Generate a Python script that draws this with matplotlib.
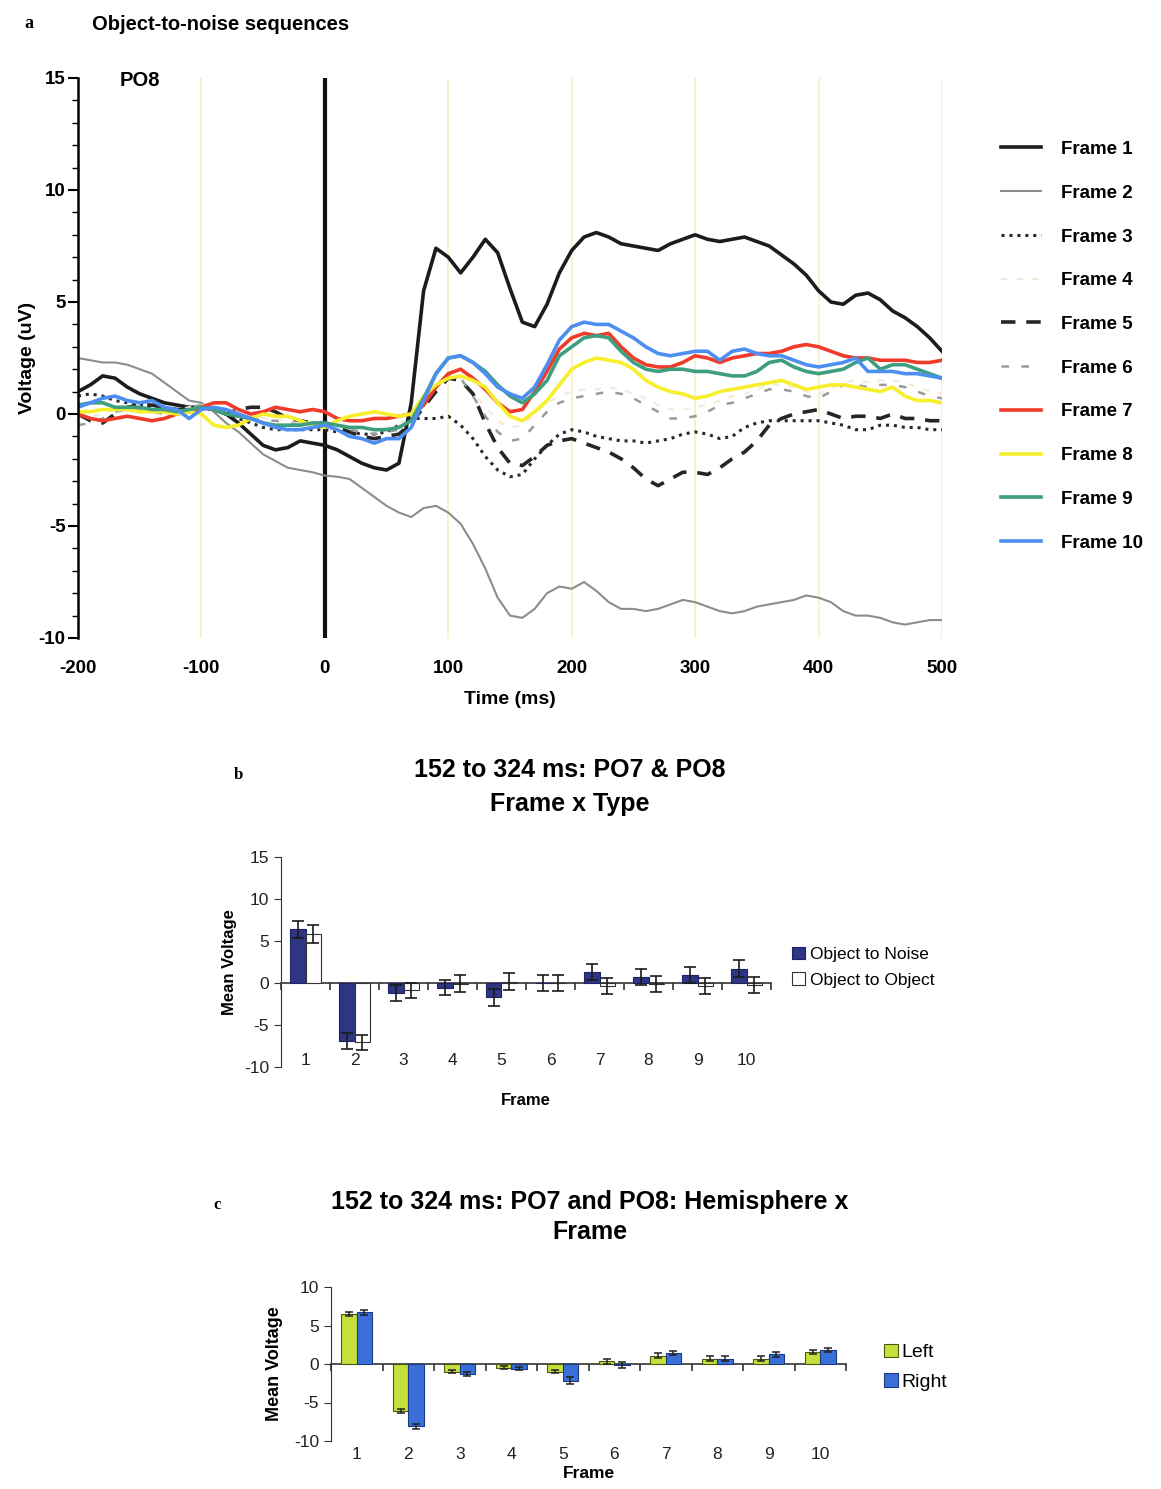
import numpy as np
import matplotlib.pyplot as plt
from matplotlib.lines import Line2D
from matplotlib.patches import Patch

plt.rcParams['font.family'] = ['Liberation Sans', 'DejaVu Sans']
plt.rcParams['axes.unicode_minus'] = False

# ---- painel a: ERP em PO8, de -200 a 500 ms a cada 10 ms ----
tempo = np.arange(-200, 501, 10)

frame1 = [1.0, 1.3, 1.7, 1.6, 1.2, 0.9, 0.7, 0.5, 0.4, 0.3, 0.3, 0.2, 0.0, -0.4, -0.9, -1.4, -1.6, -1.5, -1.2, -1.3,
          -1.4, -1.6, -1.9, -2.2, -2.4, -2.5, -2.2, 0.5, 5.5, 7.4, 7.0, 6.3, 7.0, 7.8, 7.2, 5.6, 4.1, 3.9, 4.9, 6.3,
          7.3, 7.9, 8.1, 7.9, 7.6, 7.5, 7.4, 7.3, 7.6, 7.8, 8.0, 7.8, 7.7, 7.8, 7.9, 7.7, 7.5, 7.1, 6.7, 6.2,
          5.5, 5.0, 4.9, 5.3, 5.4, 5.1, 4.6, 4.3, 3.9, 3.4, 2.8]
frame2 = [2.5, 2.4, 2.3, 2.3, 2.2, 2.0, 1.8, 1.4, 1.0, 0.6, 0.5, 0.1, -0.4, -0.8, -1.3, -1.8, -2.1, -2.4, -2.5, -2.6,
          -2.75, -2.8, -2.9, -3.3, -3.7, -4.1, -4.4, -4.6, -4.2, -4.1, -4.4, -4.9, -5.8, -6.9, -8.2, -9.0, -9.1, -8.7, -8.0, -7.7,
          -7.8, -7.5, -7.9, -8.4, -8.7, -8.7, -8.8, -8.7, -8.5, -8.3, -8.4, -8.6, -8.8, -8.9, -8.8, -8.6, -8.5, -8.4, -8.3, -8.1,
          -8.2, -8.4, -8.8, -9.0, -9.0, -9.1, -9.3, -9.4, -9.3, -9.2, -9.2]
frame3 = [0.8, 0.9, 0.8, 0.6, 0.5, 0.4, 0.3, 0.3, 0.2, 0.2, 0.4, 0.2, 0.0, -0.2, -0.4, -0.6, -0.7, -0.7, -0.7, -0.7,
          -0.7, -0.8, -0.8, -0.9, -0.9, -0.8, -0.5, -0.2, -0.2, -0.2, -0.1, -0.5, -1.1, -1.9, -2.5, -2.8, -2.7, -2.0, -1.4, -0.9,
          -0.7, -0.8, -1.0, -1.1, -1.2, -1.2, -1.3, -1.2, -1.1, -0.9, -0.8, -0.9, -1.1, -1.0, -0.6, -0.4, -0.3, -0.3, -0.3, -0.3,
          -0.3, -0.4, -0.5, -0.7, -0.7, -0.5, -0.5, -0.6, -0.6, -0.7, -0.7]
frame4 = [-0.2, -0.1, 0.0, 0.2, 0.3, 0.3, 0.2, 0.1, 0.2, 0.3, 0.4, 0.3, 0.2, 0.0, -0.1, -0.2, -0.2, -0.3, -0.4, -0.4,
          -0.5, -0.5, -0.6, -0.6, -0.7, -0.6, -0.5, -0.1, 0.5, 1.2, 1.7, 1.6, 1.0, 0.3, -0.3, -0.6, -0.5, 0.0, 0.5, 0.8,
          1.0, 1.1, 1.1, 1.2, 1.1, 0.9, 0.7, 0.4, 0.2, 0.2, 0.3, 0.4, 0.6, 0.8, 0.9, 1.1, 1.3, 1.3, 1.2, 1.0,
          0.9, 1.1, 1.4, 1.5, 1.4, 1.5, 1.5, 1.4, 1.2, 1.0, 0.9]
frame5 = [0.0, -0.3, -0.4, 0.0, 0.3, 0.4, 0.4, 0.3, 0.2, 0.2, 0.3, 0.2, 0.0, 0.2, 0.3, 0.3, 0.1, -0.2, -0.3, -0.4,
          -0.4, -0.6, -0.8, -1.0, -1.1, -1.0, -0.9, -0.4, 0.3, 1.0, 1.6, 1.5, 0.9, -0.4, -1.5, -2.2, -2.3, -1.9, -1.4, -1.2,
          -1.1, -1.3, -1.5, -1.7, -2.0, -2.4, -2.9, -3.2, -2.9, -2.6, -2.6, -2.7, -2.4, -2.0, -1.7, -1.2, -0.5, -0.2, 0.0, 0.1,
          0.2, 0.0, -0.2, -0.1, -0.1, -0.2, 0.0, -0.2, -0.2, -0.3, -0.3]
frame6 = [-0.5, -0.4, -0.2, 0.1, 0.2, 0.2, 0.1, 0.0, 0.1, 0.3, 0.4, 0.3, 0.1, -0.1, -0.2, -0.3, -0.3, -0.4, -0.5, -0.5,
          -0.6, -0.7, -0.7, -0.8, -0.9, -0.8, -0.7, -0.3, 0.4, 1.2, 1.8, 1.6, 0.8, -0.1, -0.8, -1.2, -1.1, -0.5, 0.1, 0.5,
          0.7, 0.8, 0.9, 1.0, 0.9, 0.7, 0.4, 0.1, -0.2, -0.2, -0.1, 0.1, 0.4, 0.5, 0.7, 0.9, 1.1, 1.1, 1.0, 0.8,
          0.7, 1.0, 1.3, 1.3, 1.2, 1.3, 1.3, 1.2, 1.0, 0.8, 0.7]
frame7 = [0.0, -0.2, -0.3, -0.2, -0.1, -0.2, -0.3, -0.2, 0.0, 0.1, 0.3, 0.5, 0.5, 0.2, 0.0, 0.1, 0.3, 0.2, 0.1, 0.2,
          0.1, -0.2, -0.3, -0.3, -0.2, -0.2, -0.1, 0.0, 0.4, 1.2, 1.8, 2.0, 1.6, 1.1, 0.5, 0.1, 0.2, 1.0, 1.9, 2.9,
          3.4, 3.6, 3.5, 3.6, 3.0, 2.5, 2.2, 2.1, 2.1, 2.3, 2.6, 2.5, 2.3, 2.5, 2.6, 2.7, 2.7, 2.8, 3.0, 3.1,
          3.0, 2.8, 2.6, 2.5, 2.5, 2.4, 2.4, 2.4, 2.3, 2.3, 2.4]
frame8 = [0.1, 0.1, 0.2, 0.2, 0.2, 0.1, 0.1, 0.1, 0.0, 0.1, 0.0, -0.5, -0.6, -0.5, -0.2, 0.0, -0.1, -0.1, -0.3, -0.5,
          -0.6, -0.3, -0.1, 0.0, 0.1, 0.0, -0.1, 0.0, 0.8, 1.3, 1.6, 1.7, 1.5, 1.2, 0.5, -0.1, -0.3, 0.1, 0.6, 1.3,
          2.0, 2.3, 2.5, 2.4, 2.3, 2.0, 1.5, 1.2, 1.0, 0.9, 0.7, 0.8, 1.0, 1.1, 1.2, 1.3, 1.4, 1.5, 1.3, 1.1,
          1.2, 1.3, 1.3, 1.2, 1.1, 1.0, 1.2, 0.8, 0.6, 0.6, 0.5]
frame9 = [0.4, 0.5, 0.5, 0.3, 0.3, 0.3, 0.2, 0.2, 0.1, 0.2, 0.3, 0.2, 0.0, -0.1, -0.2, -0.4, -0.5, -0.5, -0.5, -0.4,
          -0.4, -0.5, -0.6, -0.6, -0.7, -0.7, -0.6, -0.3, 0.7, 1.8, 2.5, 2.6, 2.3, 1.9, 1.3, 0.8, 0.5, 0.9, 1.5, 2.6,
          3.0, 3.4, 3.5, 3.4, 2.8, 2.3, 2.0, 1.9, 2.0, 2.0, 1.9, 1.9, 1.8, 1.7, 1.7, 1.9, 2.3, 2.4, 2.1, 1.9,
          1.8, 1.9, 2.0, 2.3, 2.5, 2.0, 2.2, 2.2, 2.0, 1.8, 1.6]
frame10 = [0.3, 0.5, 0.7, 0.8, 0.6, 0.5, 0.6, 0.3, 0.2, -0.2, 0.2, 0.3, 0.2, 0.0, -0.2, -0.4, -0.6, -0.7, -0.7, -0.6,
           -0.5, -0.7, -1.0, -1.1, -1.3, -1.1, -1.1, -0.6, 0.6, 1.8, 2.5, 2.6, 2.3, 1.8, 1.2, 0.9, 0.7, 1.2, 2.2, 3.3,
           3.9, 4.1, 4.0, 4.0, 3.7, 3.4, 3.0, 2.7, 2.6, 2.7, 2.8, 2.8, 2.4, 2.8, 2.9, 2.7, 2.6, 2.6, 2.4, 2.2,
           2.1, 2.2, 2.3, 2.5, 1.9, 1.9, 1.9, 1.8, 1.8, 1.7, 1.6]

rotulos_frames = ['Frame %d' % i for i in range(1, 11)]

# ---- painel b: 152 a 324 ms, Frame x Type ----
quadros = np.arange(1, 11)
obj_ruido = [6.4, -6.9, -1.2, -0.55, -1.7, 0.05, 1.3, 0.75, 1.0, 1.7]
err_ruido = [1.0, 1.0, 1.0, 0.9, 1.0, 0.95, 0.95, 0.95, 0.95, 1.0]
obj_objeto = [5.85, -7.05, -0.85, -0.1, 0.15, 0.05, -0.3, -0.1, -0.3, -0.2]
err_objeto = [1.05, 0.9, 0.9, 1.0, 1.0, 0.95, 0.95, 0.95, 0.95, 0.95]

# ---- painel c: 152 a 324 ms, Hemisphere x Frame ----
esquerdo = [6.5, -6.1, -1.0, -0.5, -1.0, 0.35, 1.1, 0.7, 0.7, 1.55]
err_esquerdo = [0.3, 0.3, 0.2, 0.2, 0.2, 0.3, 0.3, 0.3, 0.3, 0.3]
direito = [6.7, -8.1, -1.3, -0.6, -2.2, -0.1, 1.45, 0.7, 1.25, 1.8]
err_direito = [0.3, 0.35, 0.2, 0.2, 0.45, 0.4, 0.3, 0.3, 0.3, 0.3]

LARG, ALT = 1161, 1489


def caixa(x0, y0, x1, y1):
    # converte pixels (topo-esquerda) em coordenadas de figura
    return [x0 / LARG, 1 - y1 / ALT, (x1 - x0) / LARG, (y1 - y0) / ALT]


def desenhar_painel_a(fig):
    ax = fig.add_axes(caixa(78, 78, 942, 638))
    for t in [-100, 100, 200, 300, 400, 500]:
        ax.axvline(t, color='#f6edc9', lw=1.2, zorder=0)
    ax.axvline(0, color='#111111', lw=3, zorder=1)

    estilos = [
        dict(color='#1c1c1c', lw=2.6),
        dict(color='#8c8c8c', lw=1.5),
        dict(color='#2a2a2a', lw=2.2, ls=(0, (1, 1.6))),
        dict(color='#f1ecd9', lw=1.6, ls=(0, (3, 4))),
        dict(color='#262626', lw=2.6, ls=(0, (4, 3))),
        dict(color='#9a9a9a', lw=1.8, ls=(0, (3, 5))),
        dict(color='#f03a2a', lw=2.6),
        dict(color='#f7ee2c', lw=2.6),
        dict(color='#3e9e80', lw=2.6),
        dict(color='#4c8ff0', lw=2.6),
    ]
    series = [frame1, frame2, frame3, frame4, frame5, frame6, frame7, frame8, frame9, frame10]
    handles = []
    for serie, estilo, rotulo in zip(series, estilos, rotulos_frames):
        linha, = ax.plot(tempo, serie, label=rotulo, zorder=2, **estilo)
        handles.append(linha)

    ax.set_xlim(-200, 500)
    ax.set_ylim(-10, 15)
    for s in ['top', 'right', 'bottom']:
        ax.spines[s].set_visible(False)
    ax.spines['left'].set_linewidth(1.8)
    ax.set_yticks([-10, -5, 0, 5, 10, 15])
    ax.set_yticks(np.arange(-10, 16, 1), minor=True)
    ax.tick_params(axis='y', which='major', length=7, width=1.5, labelsize=13.5, pad=2)
    ax.tick_params(axis='y', which='minor', length=4, width=1)
    ax.set_xticks([-200, -100, 0, 100, 200, 300, 400, 500])
    ax.tick_params(axis='x', length=0, pad=16, labelsize=13.5)
    for lab in ax.get_xticklabels() + ax.get_yticklabels():
        lab.set_fontweight('bold')
    ax.set_xlabel('Time (ms)', fontsize=14, fontweight='bold', labelpad=10)
    ax.set_ylabel('Voltage (uV)', fontsize=14, fontweight='bold', labelpad=2)
    ax.text(0.048, 0.995, 'PO8', transform=ax.transAxes, fontsize=14.5, fontweight='bold', va='center')

    fig.legend(handles=handles, loc='upper left', bbox_to_anchor=(984 / LARG, 1 - 124 / ALT),
               frameon=False, prop=dict(size=13.5, weight='bold'), handlelength=2.15,
               handletextpad=1.05, labelspacing=1.42)

    fig.text(24 / LARG, 1 - 24 / ALT, 'a', fontsize=13, fontweight='bold', family='Liberation Serif', va='center')
    fig.text(92 / LARG, 1 - 24 / ALT, 'Object-to-noise sequences', fontsize=14.5, fontweight='bold', va='center')


def eixo_zero(ax, pos):
    # linha do zero com marcas entre as categorias (estilo Excel)
    sec = ax.secondary_xaxis(pos)
    sec.set_xticks(np.arange(0.5, 10.6, 1), labels=[])
    sec.tick_params(length=5, width=1.2, color='#333333')
    sec.spines['bottom'].set_linewidth(1.2)
    sec.spines['bottom'].set_color('#333333')
    sec.spines['top'].set_visible(False)


def desenhar_painel_b(fig):
    ax = fig.add_axes(caixa(281, 857, 771, 1067))
    ax.bar(quadros - 0.155, obj_ruido, width=0.31, color='#2e3684', edgecolor='#1d2260', lw=0.8,
           yerr=err_ruido, capsize=4, error_kw=dict(lw=1.2, capthick=1.2, ecolor='#1a1a1a'),
           label='Object to Noise', zorder=2)
    ax.bar(quadros + 0.155, obj_objeto, width=0.31, color='white', edgecolor='#333333', lw=0.8,
           yerr=err_objeto, capsize=4, error_kw=dict(lw=1.2, capthick=1.2, ecolor='#1a1a1a'),
           label='Object to Object', zorder=2)
    ax.set_xlim(0.5, 10.5)
    ax.set_ylim(-10, 15)
    eixo_zero(ax, 0.4)
    for s in ['top', 'right', 'bottom']:
        ax.spines[s].set_visible(False)
    ax.spines['left'].set_color('#333333')
    ax.set_yticks([-10, -5, 0, 5, 10, 15])
    ax.tick_params(axis='y', length=5, labelsize=12.5, colors='#333333', labelcolor='#222222')
    ax.set_xticks(quadros)
    ax.tick_params(axis='x', length=0, pad=-10, labelsize=12.5, labelcolor='#222222')
    ax.set_xlabel('Frame', fontsize=12, fontweight='bold', labelpad=18)
    ax.set_ylabel('Mean Voltage', fontsize=12, fontweight='bold', labelpad=5)
    ax.legend(loc='center left', bbox_to_anchor=(1.01, 0.475), frameon=False, fontsize=12.5,
              handlelength=0.75, handleheight=0.75, handletextpad=0.3, labelspacing=0.6)

    fig.text(570 / LARG, 1 - 787 / ALT, '152 to 324 ms: PO7 & PO8\nFrame x Type', ha='center', va='center',
             fontsize=18, fontweight='bold', linespacing=1.5)
    fig.text(234 / LARG, 1 - 775 / ALT, 'b', fontsize=12, fontweight='bold', family='Liberation Serif', va='center')


def desenhar_painel_c(fig):
    ax = fig.add_axes(caixa(331, 1287, 846, 1441))
    ax.bar(quadros - 0.15, esquerdo, width=0.3, color='#c5e03a', edgecolor='#4a5a10', lw=0.8,
           yerr=err_esquerdo, capsize=3, error_kw=dict(lw=1.1, capthick=1.1, ecolor='#222222'),
           label='Left', zorder=2)
    ax.bar(quadros + 0.15, direito, width=0.3, color='#3a6fd8', edgecolor='#1c3a80', lw=0.8,
           yerr=err_direito, capsize=3, error_kw=dict(lw=1.1, capthick=1.1, ecolor='#222222'),
           label='Right', zorder=2)
    ax.set_xlim(0.5, 10.5)
    ax.set_ylim(-10, 10)
    eixo_zero(ax, 0.4999)
    for s in ['top', 'right', 'bottom']:
        ax.spines[s].set_visible(False)
    ax.spines['left'].set_color('#333333')
    ax.set_yticks([-10, -5, 0, 5, 10])
    ax.tick_params(axis='y', length=5, labelsize=12.5, colors='#333333', labelcolor='#222222')
    ax.set_xticks(quadros)
    ax.tick_params(axis='x', length=0, pad=4, labelsize=12.5, labelcolor='#222222')
    ax.set_xlabel('Frame', fontsize=12.5, fontweight='bold', labelpad=3)
    ax.set_ylabel('Mean Voltage', fontsize=13, fontweight='bold', labelpad=8)
    ax.legend(loc='center left', bbox_to_anchor=(1.04, 0.48), frameon=False, fontsize=14,
              handlelength=0.7, handleheight=0.7, handletextpad=0.2, labelspacing=0.6)

    fig.text(590 / LARG, 1 - 1217 / ALT, '152 to 324 ms: PO7 and PO8: Hemisphere x\nFrame', ha='center',
             va='center', fontsize=18, fontweight='bold', linespacing=1.3)
    fig.text(213 / LARG, 1 - 1205 / ALT, 'c', fontsize=12, fontweight='bold', family='Liberation Serif', va='center')


fig = plt.figure(figsize=(11.61, 14.89), dpi=100)
desenhar_painel_a(fig)
desenhar_painel_b(fig)
desenhar_painel_c(fig)
fig.savefig('out.png', dpi=100, facecolor='white')
